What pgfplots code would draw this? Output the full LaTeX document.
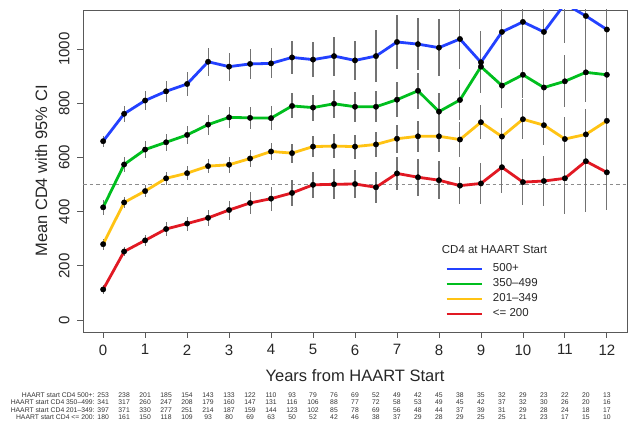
\documentclass[border=0pt]{standalone}
\usepackage{pgfplots}
\pgfplotsset{compat=1.18}
\usepackage{pgfplotstable}
\usepackage{fontspec}
\setmainfont{Liberation Sans}
\newcommand{\cnt}{\fontsize{6.8}{8}\selectfont}
\definecolor{cblue}{RGB}{35,65,255}
\definecolor{cgreen}{RGB}{0,190,30}
\definecolor{cyellow}{RGB}{255,195,20}
\definecolor{cred}{RGB}{225,25,35}

\pgfplotstableread{
x y e
0 660 20
0.5 761 30
1 810 34
1.5 844 38
2 871 45
2.5 953 52
3 935 52
3.5 945 55
4 947 55
4.5 969 61
5 961 64
5.5 974 72
6 958 72
6.5 974 95
7 1026 100
7.5 1018 96
8 1005 105
8.5 1037 110
9 951 115
9.5 1063 120
10 1100 135
10.5 1063 140
11 1167 145
11.5 1122 180
12 1072 150
}\tabA
\pgfplotstableread{
x y e
0 416 27
0.5 574 28
1 629 30
1.5 656 31
2 683 34
2.5 721 37
3 748 39
3.5 746 40
4 745 43
4.5 790 46
5 784 48
5.5 798 52
6 787 56
6.5 787 58
7 813 64
7.5 846 67
8 769 70
8.5 812 73
9 935 76
9.5 865 81
10 905 87
10.5 858 89
11 881 96
11.5 914 110
12 905 122
}\tabB
\pgfplotstableread{
x y e
0 280 20
0.5 434 20
1 476 22
1.5 523 24
2 542 25
2.5 568 27
3 573 29
3.5 596 31
4 622 33
4.5 616 35
5 640 39
5.5 642 43
6 640 44
6.5 648 47
7 669 52
7.5 678 57
8 678 59
8.5 666 64
9 730 63
9.5 677 70
10 741 73
10.5 719 74
11 668 80
11.5 685 92
12 735 95
}\tabC
\pgfplotstableread{
x y e
0 113 15
0.5 253 18
1 294 20
1.5 336 24
2 356 26
2.5 377 30
3 406 35
3.5 432 42
4 448 44
4.5 469 48
5 499 48
5.5 501 55
6 502 52
6.5 490 58
7 541 60
7.5 527 68
8 516 70
8.5 496 68
9 504 75
9.5 564 97
10 509 86
10.5 513 93
11 523 130
11.5 586 188
12 545 140
}\tabD
\pgfplotstableread{
x a b c d
0 253 341 397 180
0.5 238 317 371 161
1 201 260 330 150
1.5 185 247 277 118
2 154 208 251 109
2.5 143 179 214 93
3 133 160 187 80
3.5 122 147 159 69
4 110 131 144 63
4.5 93 116 123 50
5 79 106 102 52
5.5 76 88 85 42
6 69 77 78 46
6.5 52 72 69 38
7 49 58 56 37
7.5 42 53 48 29
8 45 49 44 28
8.5 38 45 37 29
9 35 42 39 25
9.5 32 37 31 25
10 29 32 29 21
10.5 23 30 28 23
11 22 26 24 17
11.5 20 20 18 15
12 13 16 17 10
}\tabN

\begin{document}
\begin{tikzpicture}
\useasboundingbox (0,0) rectangle (631pt,441pt);
\begin{axis}[
  at={(83pt,109pt)}, anchor=south west, scale only axis,
  width=544pt, height=322pt,
  xmin=-0.48, xmax=12.48, ymin=-44, ymax=1144,
  xtick={0,1,...,12}, ytick={0,200,...,1000},
  tick align=outside, tick pos=left, major tick length=6pt,
  axis line style={black!65, line width=0.8pt},
  tick style={black!65, line width=0.8pt},
  /pgf/number format/assume math mode=true,
  /pgf/number format/1000 sep={},
  ticklabel style={font=\fontsize{15}{18}\selectfont, text=black!85},
  yticklabel style={rotate=90, anchor=south},
  xticklabel shift=3pt, yticklabel shift=4pt,
  xlabel={Years from HAART Start},
  ylabel={Mean CD4 with 95\% CI},
  label style={font=\fontsize{16.5}{20}\selectfont, text=black!85},
  xlabel style={at={(axis description cs:0.5,-0.135)}, anchor=center},
  ylabel style={at={(axis description cs:-0.077,0.5)}, anchor=center},
  legend cell align=left,
  legend style={at={(axis description cs:0.6654,0.2134)}, anchor=north west,
    draw=none, fill=none, inner sep=0pt,
    font=\fontsize{11.5}{14}\selectfont, text=black!85,
    row sep=4pt, column sep=0pt,
    nodes={inner sep=0pt, text height=8.5pt, text depth=2.5pt},
    /tikz/every odd column/.append style={column sep=10pt}},
  legend image code/.code={\draw[#1, line width=2.8pt] (0pt,0pt) -- (35pt,0pt);},
]
\addplot[forget plot, black!45, line width=1.3pt, dash pattern=on 3.5pt off 3pt] coordinates {(-0.48,500) (12.48,500)};

\addplot[forget plot, black!55, only marks, mark=none, error bars/.cd, y dir=both, y explicit, error mark=none, error bar style={line width=1.1pt, black!55}] table[x=x,y=y,y error=e]{\tabA};
\addplot[forget plot, black!55, only marks, mark=none, error bars/.cd, y dir=both, y explicit, error mark=none, error bar style={line width=1.1pt, black!55}] table[x=x,y=y,y error=e]{\tabB};
\addplot[forget plot, black!55, only marks, mark=none, error bars/.cd, y dir=both, y explicit, error mark=none, error bar style={line width=1.1pt, black!55}] table[x=x,y=y,y error=e]{\tabC};
\addplot[forget plot, black!55, only marks, mark=none, error bars/.cd, y dir=both, y explicit, error mark=none, error bar style={line width=1.1pt, black!55}] table[x=x,y=y,y error=e]{\tabD};

\addplot[cblue, line width=2.8pt, mark=none] table[x=x,y=y]{\tabA};
\addlegendentry{500+}
\addplot[cgreen, line width=2.8pt, mark=none] table[x=x,y=y]{\tabB};
\addlegendentry{350–499}
\addplot[cyellow, line width=2.8pt, mark=none] table[x=x,y=y]{\tabC};
\addlegendentry{201–349}
\addplot[cred, line width=2.8pt, mark=none] table[x=x,y=y]{\tabD};
\addlegendentry{<= 200}

\addplot[forget plot, only marks, mark=*, mark size=2.7pt, black] table[x=x,y=y]{\tabA};
\addplot[forget plot, only marks, mark=*, mark size=2.7pt, black] table[x=x,y=y]{\tabB};
\addplot[forget plot, only marks, mark=*, mark size=2.7pt, black] table[x=x,y=y]{\tabC};
\addplot[forget plot, only marks, mark=*, mark size=2.7pt, black] table[x=x,y=y]{\tabD};

\node[anchor=west, inner sep=0pt, font=\fontsize{11.5}{14}\selectfont, text=black!85] at (axis description cs:0.6594,0.2547) {CD4 at HAART Start};
\end{axis}

\begin{axis}[
  at={(83pt,109pt)}, anchor=south west, scale only axis,
  width=544pt, height=322pt,
  xmin=-0.48, xmax=12.48, ymin=-44, ymax=1144,
  hide axis, clip=false,
]
\addplot[draw=none, mark=none, nodes near coords, point meta=explicit symbolic, nodes near coords style={anchor=center, font=\cnt, text=black!80, inner sep=0pt}] table[x=x, y expr=-276.5, meta=a]{\tabN};
\addplot[draw=none, mark=none, nodes near coords, point meta=explicit symbolic, nodes near coords style={anchor=center, font=\cnt, text=black!80, inner sep=0pt}] table[x=x, y expr=-303.4, meta=b]{\tabN};
\addplot[draw=none, mark=none, nodes near coords, point meta=explicit symbolic, nodes near coords style={anchor=center, font=\cnt, text=black!80, inner sep=0pt}] table[x=x, y expr=-331.8, meta=c]{\tabN};
\addplot[draw=none, mark=none, nodes near coords, point meta=explicit symbolic, nodes near coords style={anchor=center, font=\cnt, text=black!80, inner sep=0pt}] table[x=x, y expr=-358.8, meta=d]{\tabN};
\node[anchor=east, font=\cnt, text=black!80, inner sep=0pt] at (axis cs:-0.2,-276.5) {HAART start CD4 500+:};
\node[anchor=east, font=\cnt, text=black!80, inner sep=0pt] at (axis cs:-0.2,-303.4) {HAART start CD4 350–499:};
\node[anchor=east, font=\cnt, text=black!80, inner sep=0pt] at (axis cs:-0.2,-331.8) {HAART start CD4 201–349:};
\node[anchor=east, font=\cnt, text=black!80, inner sep=0pt] at (axis cs:-0.2,-358.8) {HAART start CD4 <= 200:};
\end{axis}
\end{tikzpicture}
\end{document}
